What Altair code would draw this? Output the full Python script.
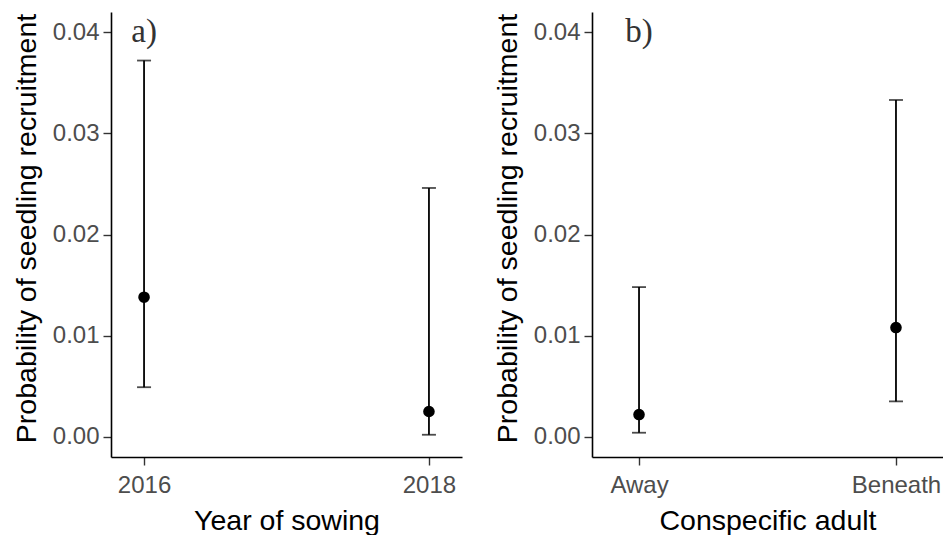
import altair as alt
import pandas as pd

# Panel a: year of sowing
years = ["2016", "2018"]
year_est = [0.0138, 0.0025]
year_lo = [0.0049, 0.0002]
year_hi = [0.0372, 0.0246]

# Panel b: position relative to a conspecific adult
adult = ["Away", "Beneath"]
adult_est = [0.0022, 0.0108]
adult_lo = [0.0004, 0.0035]
adult_hi = [0.0148, 0.0333]

y_ticks = [0.0, 0.01, 0.02, 0.03, 0.04]
y_title = "Probability of seedling recruitment"

SANS = "Liberation Sans"
SERIF = "Liberation Serif"


def panel(cats, est, lo, hi, x_title, tag, pad):
    df = pd.DataFrame({"cat": cats, "est": est, "lo": lo, "hi": hi})
    tag_df = pd.DataFrame({"cat": [cats[0]], "y": [0.04], "tag": [tag]})

    x = alt.X(
        "cat:N",
        sort=cats,
        scale=alt.Scale(type="point", padding=pad),
        axis=alt.Axis(title=x_title, labelAngle=0),
    )
    y_scale = alt.Scale(domain=[-0.002, 0.042], nice=False, zero=False)
    y_axis = alt.Axis(title=y_title, values=y_ticks, format=".2f")

    bars = alt.Chart(df).mark_rule(color="black", strokeWidth=1.8).encode(
        x=x,
        y=alt.Y("lo:Q", scale=y_scale, axis=y_axis),
        y2="hi:Q",
    )
    cap_lo = alt.Chart(df).mark_tick(
        color="black", thickness=1.8, size=14, orient="horizontal"
    ).encode(x=x, y=alt.Y("lo:Q", scale=y_scale, axis=y_axis))
    cap_hi = alt.Chart(df).mark_tick(
        color="black", thickness=1.8, size=14, orient="horizontal"
    ).encode(x=x, y=alt.Y("hi:Q", scale=y_scale, axis=y_axis))
    pts = alt.Chart(df).mark_circle(color="black", size=135, opacity=1).encode(
        x=x, y=alt.Y("est:Q", scale=y_scale, axis=y_axis)
    )
    label = alt.Chart(tag_df).mark_text(
        font=SERIF, fontSize=33, color="#333333", baseline="middle", align="center"
    ).encode(x=x, y=alt.Y("y:Q", scale=y_scale, axis=y_axis), text="tag:N")

    return alt.layer(bars, cap_lo, cap_hi, pts, label).properties(
        width=351, height=445
    )


left = panel(years, year_est, year_lo, year_hi, "Year of sowing", "a)", 0.116)
right = panel(adult, adult_est, adult_lo, adult_hi, "Conspecific adult", "b)", 0.183)

chart = (
    alt.hconcat(left, right, spacing=31)
    .properties(padding={"left": 12, "top": 12, "right": 0, "bottom": 0})
    .configure_view(stroke=None)
    .configure_axis(
        domainColor="black",
        domainWidth=1.6,
        tickColor="#333333",
        tickWidth=1.4,
        tickSize=8,
        grid=False,
        labelFont=SANS,
        labelFontSize=24,
        labelColor="#4D4D4D",
        labelPadding=4,
        titleFont=SANS,
        titleFontSize=28.5,
        titleFontWeight="normal",
        titleColor="black",
        titlePadding=5,
    )
    .configure_axisX(labelPadding=8, titlePadding=9)
    .configure_axisY(titlePadding=11, titleY=216)
)

chart.save("out.html", embed_options={"renderer": "svg", "actions": False})
